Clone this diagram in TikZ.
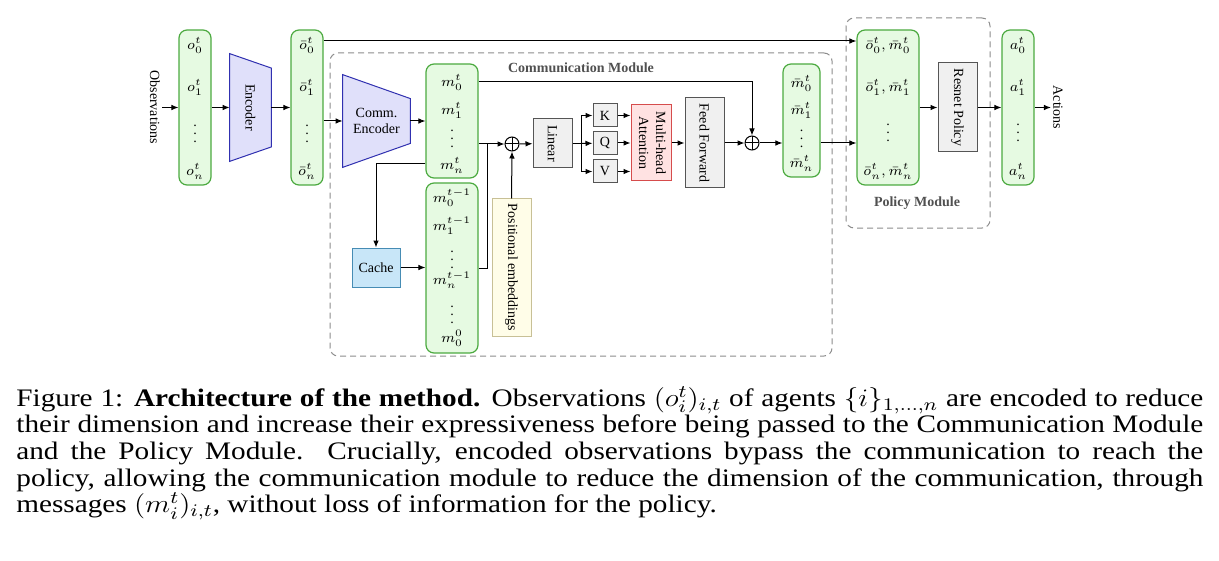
\RequirePackage{fix-cm}
\documentclass[tikz,border=0pt]{standalone}
\usepackage[no-math]{fontspec}
\setmainfont{Liberation Serif}
\usepackage{graphicx}
\usetikzlibrary{arrows.meta}
\pgfdeclarelayer{background}
\pgfsetlayers{background,main}

\definecolor{vecfill}{RGB}{230,250,226}
\definecolor{vecline}{RGB}{76,170,64}
\definecolor{encfill}{RGB}{224,224,250}
\definecolor{encline}{RGB}{48,48,176}
\definecolor{opfill}{RGB}{240,240,240}
\definecolor{opline}{RGB}{85,85,85}
\definecolor{attfill}{RGB}{255,226,226}
\definecolor{attline}{RGB}{214,76,76}
\definecolor{cachefill}{RGB}{200,230,248}
\definecolor{cacheline}{RGB}{70,140,180}
\definecolor{posfill}{RGB}{255,253,232}
\definecolor{posline}{RGB}{200,192,150}
\definecolor{modline}{RGB}{140,140,140}
\definecolor{modtext}{RGB}{80,80,80}

\tikzset{
  vec/.style={draw=vecline,fill=vecfill,rounded corners=4pt,line width=0.6pt},
  encbox/.style={inner sep=0pt},
  encshape/.style={draw=encline,fill=encfill,line width=0.5pt},
  opbox/.style={draw=opline,fill=opfill,line width=0.5pt,inner sep=0pt},
  attbox/.style={draw=attline,fill=attfill,line width=0.5pt,inner sep=0pt},
  cachebox/.style={draw=cacheline,fill=cachefill,line width=0.5pt,inner sep=0pt},
  posbox/.style={draw=posline,fill=posfill,line width=0.5pt,inner sep=0pt},
  addop/.style={circle,draw,line width=0.5pt,minimum size=7pt,inner sep=0pt,
    path picture={\draw[line width=0.5pt] (path picture bounding box.north) -- (path picture bounding box.south)
      (path picture bounding box.west) -- (path picture bounding box.east);}},
  modbox/.style={draw=modline,dash pattern=on 3pt off 2pt,rounded corners=4pt,line width=0.5pt},
  modlbl/.style={text=modtext,font=\fontsize{7}{8.4}\selectfont\bfseries},
  arr/.style={->,line width=0.5pt},
}

\begin{document}
\begin{tikzpicture}[x=0.5pt,y=-0.5pt,font=\fontsize{7}{8.4}\selectfont,>={Latex[length=3.5pt,width=2.8pt]}]
  \useasboundingbox (0,0) rectangle (1219,561);

  % modules
  \node[modbox,minimum width=251pt,minimum height=151.5pt] (comm) at (581,204.5) {};
  \node[modlbl] (commlbl) at (581,68) {Communication Module};
  \node[modbox,minimum width=72pt,minimum height=105pt] (polmod) at (918,123) {};
  \node[modlbl] (pollbl) at (917,203) {Policy Module};

  % observations
  \node[inner sep=1pt] (obslbl) at (155,107.5) {\rotatebox{-90}{Observations}};
  \node[vec,minimum width=16pt,minimum height=77.5pt] (obs) at (195,107.5) {};
  \node (o0) at (195,45) {$o_0^t$};
  \node (o1) at (195,87) {$o_1^t$};
  \node[anchor=base] (odots) at (195,143) {$\vdots$};
  \node (on) at (195,171) {$o_n^t$};

  \node[encbox,minimum width=20.5pt,minimum height=53.5pt] (enc) at (250.5,107.5) {\rotatebox{-90}{Encoder}};

  \node[vec,minimum width=16pt,minimum height=77.5pt] (obar) at (307,107.5) {};
  \node (ob0) at (307,45) {$\bar{o}_0^t$};
  \node (ob1) at (307,87) {$\bar{o}_1^t$};
  \node[anchor=base] (obdots) at (307,143) {$\vdots$};
  \node (obn) at (307,171) {$\bar{o}_n^t$};

  % communication
  \node[encbox,minimum width=33.5pt,minimum height=46pt,align=center] (cenc) at (376.5,121) {Comm.\\Encoder};

  \node[vec,minimum width=26pt,minimum height=57pt] (m) at (452,121) {};
  \node (m0) at (452,82) {$m_0^t$};
  \node (m1) at (452,110) {$m_1^t$};
  \node[anchor=base] (mdots) at (452,148) {$\vdots$};
  \node (mn) at (452,165) {$m_n^t$};

  \node[cachebox,minimum width=24pt,minimum height=19.5pt] (cache) at (376,267.5) {Cache};

  \node[vec,minimum width=26pt,minimum height=85pt] (mprev) at (452,268) {};
  \node (mp0) at (452,198) {$m_0^{t-1}$};
  \node (mp1) at (452,226) {$m_1^{t-1}$};
  \node[anchor=base] (mpdots) at (452,268) {$\vdots$};
  \node (mpn) at (452,280) {$m_n^{t-1}$};
  \node[anchor=base] (mpdots2) at (452,323) {$\vdots$};
  \node (mpz) at (452,338) {$m_0^0$};

  \node[posbox,minimum width=19.5pt,minimum height=68.5pt] (pos) at (511.5,267.5) {\rotatebox{-90}{Positional embeddings}};
  \node[addop] (add1) at (512,144) {};
  \node[opbox,minimum width=19.5pt,minimum height=24.5pt] (lin) at (552.5,143.5) {\rotatebox{-90}{Linear}};
  \coordinate (split) at (581,143.5);
  \node[opbox,minimum width=12pt,minimum height=11.5pt] (k) at (605,115.5) {K};
  \node[opbox,minimum width=12pt,minimum height=11.5pt] (q) at (605,143) {Q};
  \node[opbox,minimum width=12pt,minimum height=11.5pt] (v) at (605,171.5) {V};
  \node[attbox,minimum width=20pt,minimum height=38pt] (mha) at (651,143)
    {\rotatebox{-90}{\begin{tabular}{@{}c@{}}Multi-head\\Attention\end{tabular}}};
  \node[opbox,minimum width=19.5pt,minimum height=45pt] (ff) at (704.5,143) {\rotatebox{-90}{Feed Forward}};
  \node[addop] (add2) at (752,143) {};

  \node[vec,minimum width=18.5pt,minimum height=56.5pt] (mbar) at (801.5,120.5) {};
  \node (mb0) at (801.5,83) {$\bar{m}_0^t$};
  \node (mb1) at (801.5,110) {$\bar{m}_1^t$};
  \node[anchor=base] (mbdots) at (801.5,148) {$\vdots$};
  \node (mbn) at (801.5,163) {$\bar{m}_n^t$};

  % policy
  \node[vec,minimum width=31pt,minimum height=77.5pt] (pol) at (888,107.5) {};
  \node (p0) at (888,45) {$\bar{o}_0^t,\bar{m}_0^t$};
  \node (p1) at (888,87) {$\bar{o}_1^t,\bar{m}_1^t$};
  \node[anchor=base] (pdots) at (888,142) {$\vdots$};
  \node (pn) at (888,171) {$\bar{o}_n^t,\bar{m}_n^t$};

  \node[opbox,minimum width=19.5pt,minimum height=44.5pt] (res) at (957.5,107.5) {\rotatebox{-90}{Resnet Policy}};

  \node[vec,minimum width=16pt,minimum height=77.5pt] (act) at (1018,107.5) {};
  \node (a0) at (1018,45) {$a_0^t$};
  \node (a1) at (1018,87) {$a_1^t$};
  \node[anchor=base] (adots) at (1018,142) {$\vdots$};
  \node (an) at (1018,171) {$a_n^t$};
  \node[inner sep=1pt] (actlbl) at (1058,107.5) {\rotatebox{-90}{Actions}};

  % trapezoids behind the encoder labels
  \begin{pgfonlayer}{background}
    \draw[encshape] (enc.north west) -- ([yshift=-7.25pt]enc.north east) -- ([yshift=7.25pt]enc.south east) -- (enc.south west) -- cycle;
    \draw[encshape] (cenc.north west) -- ([yshift=-12pt]cenc.north east) -- ([yshift=12pt]cenc.south east) -- (cenc.south west) -- cycle;
  \end{pgfonlayer}

  % connections
  \draw[arr] (obslbl) -- (obs);
  \draw[arr] (obs) -- (enc);
  \draw[arr] (enc) -- (obar);
  \draw[arr] ([yshift=33.25pt]obar.east) -- ([yshift=33.25pt]pol.west);
  \draw[arr] (obar.east |- cenc.west) -- (cenc.west);
  \draw[arr] (cenc.east) -- (m.west |- cenc.east);
  \draw[arr] ([yshift=19.5pt]m.east) -| (add2.north);
  \draw[arr] (m.east |- add1) -- (add1);
  \draw[arr] ([yshift=-21.5pt]m.west) -| (cache.north);
  \draw[arr] (cache) -- (mprev.west |- cache);
  \coordinate (join) at (487,144);
  \draw[line width=0.5pt] (mprev.east) -| (join);
  \draw[arr] (pos.north) -- (add1.south);
  \draw[arr] (add1) -- (lin);
  \draw[line width=0.5pt] (lin.east) -- (split);
  \draw[arr] (split) |- (k);
  \draw[arr] (split) -- (q);
  \draw[arr] (split) |- (v);
  \draw[arr] (k) -- (mha.west |- k);
  \draw[arr] (q) -- (mha.west |- q);
  \draw[arr] (v) -- (mha.west |- v);
  \draw[arr] (mha) -- (ff);
  \draw[arr] (ff) -- (add2);
  \draw[arr] (add2) -- (mbar.west |- add2);
  \draw[arr] (mbar.east |- add2) -- (pol.west |- add2);
  \draw[arr] (pol) -- (res);
  \draw[arr] (res) -- (act);
  \draw[arr] (act) -- (actlbl);

  % caption
  \node[anchor=north west,inner sep=0pt] (cap) at (16,386)
    {\scalebox{1.16}[1]{\parbox[t]{511.6pt}{\fontsize{12.6}{13.3}\selectfont
     Figure 1: \textbf{Architecture of the method.} Observations $(o_i^t)_{i,t}$ of agents $\{i\}_{1,\dots,n}$ are encoded to reduce\linebreak
     their dimension and increase their expressiveness before being passed to the Communication Module\linebreak
     and the Policy Module.  Crucially, encoded observations bypass the communication to reach the\linebreak
     policy, allowing the communication module to reduce the dimension of the communication, through\linebreak
     messages $(m_i^t)_{i,t}$, without loss of information for the policy.\par}}};
\end{tikzpicture}
\end{document}
